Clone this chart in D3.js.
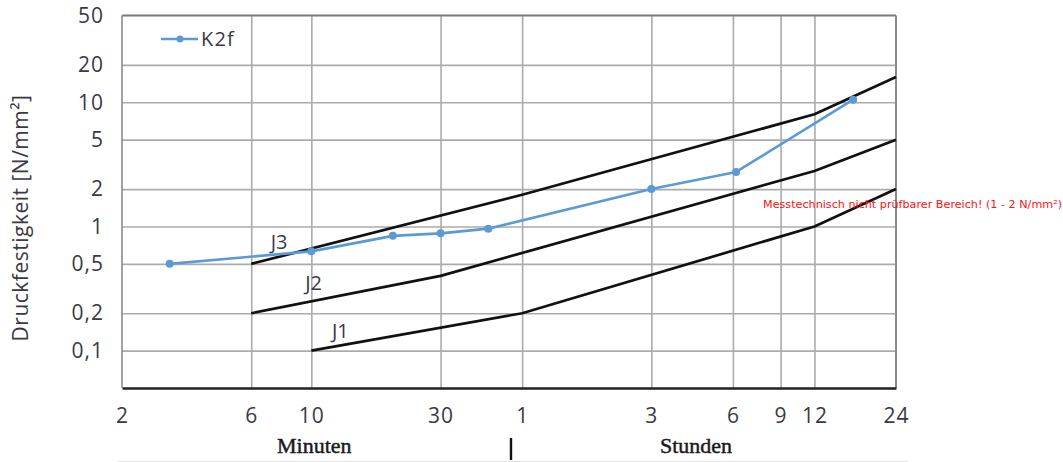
<!DOCTYPE html>
<html>
<head>
<meta charset="utf-8">
<script src="https://cdn.jsdelivr.net/npm/d3@7"></script>
<style>
  html, body { margin: 0; padding: 0; background: #fff; }
  svg { display: block; }
</style>
</head>
<body>
<svg id="chart" width="1063" height="462"></svg>
<script>
// Time axis in minutes (log scale), labelled in minutes then hours
const xTickMinutes = [2, 6, 10, 30, 60, 180, 360, 540, 720, 1440];
const xTickLabels  = ["2", "6", "10", "30", "1", "3", "6", "9", "12", "24"];
const xGridMinutes = [6, 10, 30, 60, 180, 360, 540, 720];

// Strength axis (log scale), German decimal comma
const yTickValues = [0.1, 0.2, 0.5, 1, 2, 5, 10, 20, 50];
const yTickLabels = ["0,1", "0,2", "0,5", "1", "2", "5", "10", "20", "50"];
const yGridValues = [0.1, 0.2, 0.5, 1, 2, 5, 10, 20];

// Measured series K2f
const k2fMinutes = [3, 10, 20, 30, 45, 180, 370, 1000];
const k2fValues  = [0.5, 0.63, 0.84, 0.88, 0.96, 2.0, 2.75, 10.5];

// Class boundary curves J1–J3
const j3Minutes = [6, 60, 720, 1440];
const j3Values  = [0.5, 1.8, 8, 16];
const j2Minutes = [6, 30, 720, 1440];
const j2Values  = [0.2, 0.4, 2.8, 5];
const j1Minutes = [10, 60, 720, 1440];
const j1Values  = [0.1, 0.2, 1.0, 2.0];

const svg = d3.select("#chart");
const plot = { left: 122, right: 896, top: 15.5, bottom: 388 };

const x = d3.scaleLog().domain([2, 1440]).range([plot.left, plot.right]);
const y = d3.scaleLog().domain([0.05, 50]).range([plot.bottom, plot.top]);

const tickFont = "'Open Sans', sans-serif";
const textColor = "#3a3a44";

// Grid lines
svg.append("g")
  .attr("transform", `translate(0,${plot.bottom})`)
  .call(d3.axisBottom(x).tickValues(xGridMinutes).tickSize(-(plot.bottom - plot.top)).tickFormat(""))
  .call(g => g.select(".domain").remove())
  .call(g => g.selectAll("line").attr("stroke", "#ababab").attr("stroke-width", 1.6));

svg.append("g")
  .attr("transform", `translate(${plot.left},0)`)
  .call(d3.axisLeft(y).tickValues(yGridValues).tickSize(-(plot.right - plot.left)).tickFormat(""))
  .call(g => g.select(".domain").remove())
  .call(g => g.selectAll("line").attr("stroke", "#ababab").attr("stroke-width", 1.6));

// Frame
svg.append("line").attr("x1", plot.left).attr("x2", plot.right).attr("y1", plot.top).attr("y2", plot.top)
  .attr("stroke", "#7a7a7a").attr("stroke-width", 2.2);
svg.append("line").attr("x1", plot.left).attr("x2", plot.left).attr("y1", plot.top).attr("y2", plot.bottom)
  .attr("stroke", "#8a8a8a").attr("stroke-width", 1.6);
svg.append("line").attr("x1", plot.right).attr("x2", plot.right).attr("y1", plot.top).attr("y2", plot.bottom)
  .attr("stroke", "#8a8a8a").attr("stroke-width", 2);

// Axis tick labels
const xAxis = svg.append("g")
  .attr("transform", `translate(0,${plot.bottom})`)
  .call(d3.axisBottom(x).tickValues(xTickMinutes).tickSize(0).tickPadding(0)
    .tickFormat((d, i) => xTickLabels[i]));
xAxis.select(".domain").attr("stroke", "#222").attr("stroke-width", 2.6);
xAxis.selectAll("text")
  .attr("y", 35).attr("dy", 0)
  .attr("font-family", tickFont).attr("font-size", 21).attr("letter-spacing", 1)
  .attr("fill", textColor);

const yAxis = svg.append("g")
  .attr("transform", `translate(${plot.left},0)`)
  .call(d3.axisLeft(y).tickValues(yTickValues).tickSize(0).tickPadding(18)
    .tickFormat((d, i) => yTickLabels[i]));
yAxis.select(".domain").remove();
yAxis.selectAll("text")
  .attr("font-family", tickFont).attr("font-size", 21).attr("letter-spacing", 1)
  .attr("fill", textColor);

// Y axis title
svg.append("text")
  .attr("transform", "translate(28,218) rotate(-90)")
  .attr("text-anchor", "middle")
  .attr("font-family", tickFont).attr("font-size", 21).attr("letter-spacing", 0.5)
  .attr("fill", textColor)
  .text("Druckfestigkeit [N/mm²]");

// Boundary curves with their labels
const line = d3.line().x(d => x(d[0])).y(d => y(d[1]));
const boundaries = [
  { name: "J3", m: j3Minutes, v: j3Values, lx: 7.6, ly: 0.655 },
  { name: "J2", m: j2Minutes, v: j2Values, lx: 10.2, ly: 0.31 },
  { name: "J1", m: j1Minutes, v: j1Values, lx: 12.8, ly: 0.126 }
];
boundaries.forEach(b => {
  svg.append("path")
    .datum(b.m.map((m, i) => [m, b.v[i]]))
    .attr("d", line)
    .attr("fill", "none").attr("stroke", "#111").attr("stroke-width", 2.7)
    .attr("stroke-linejoin", "round");
  svg.append("text")
    .attr("x", x(b.lx)).attr("y", y(b.ly))
    .attr("text-anchor", "middle")
    .attr("font-family", tickFont).attr("font-size", 20)
    .attr("fill", textColor)
    .text(b.name);
});

// K2f series
const blue = "#5b9bd5";
const k2f = k2fMinutes.map((m, i) => [m, k2fValues[i]]);
svg.append("path")
  .datum(k2f)
  .attr("d", line)
  .attr("fill", "none").attr("stroke", blue).attr("stroke-width", 2.6)
  .attr("stroke-linejoin", "round");
svg.append("g").selectAll("circle")
  .data(k2f)
  .join("circle")
  .attr("cx", d => x(d[0])).attr("cy", d => y(d[1]))
  .attr("r", 4).attr("fill", blue);

// Legend
svg.append("line").attr("x1", 161).attr("x2", 198).attr("y1", 39).attr("y2", 39)
  .attr("stroke", blue).attr("stroke-width", 2.6);
svg.append("circle").attr("cx", 180).attr("cy", 39).attr("r", 3.5).attr("fill", blue);
svg.append("text").attr("x", 201).attr("y", 46)
  .attr("font-family", tickFont).attr("font-size", 20).attr("letter-spacing", 1.2)
  .attr("fill", textColor).text("K2f");

// Measurement range note
svg.append("text")
  .attr("x", 763).attr("y", 208)
  .attr("font-family", "'DejaVu Sans', sans-serif").attr("font-size", 10.5)
  .attr("textLength", 299).attr("lengthAdjust", "spacingAndGlyphs")
  .attr("fill", "#ff1010")
  .text("Messtechnisch nicht prüfbarer Bereich! (1 - 2 N/mm²)");

// Unit captions below the time axis
const serif = "'Liberation Serif', 'Times New Roman', serif";
svg.append("text").attr("x", 277).attr("y", 453)
  .attr("font-family", serif).attr("font-size", 22).attr("fill", "#1a1a1a")
  .attr("stroke", "#1a1a1a").attr("stroke-width", 0.45).text("Minuten");
svg.append("text").attr("x", 660).attr("y", 453)
  .attr("font-family", serif).attr("font-size", 22).attr("fill", "#1a1a1a")
  .attr("stroke", "#1a1a1a").attr("stroke-width", 0.45).text("Stunden");
svg.append("line").attr("x1", 511).attr("x2", 511).attr("y1", 438).attr("y2", 460)
  .attr("stroke", "#111").attr("stroke-width", 2.4);
svg.append("line").attr("x1", 118).attr("x2", 908).attr("y1", 461.5).attr("y2", 461.5)
  .attr("stroke", "#e4e4e4").attr("stroke-width", 1);
</script>
</body>
</html>
